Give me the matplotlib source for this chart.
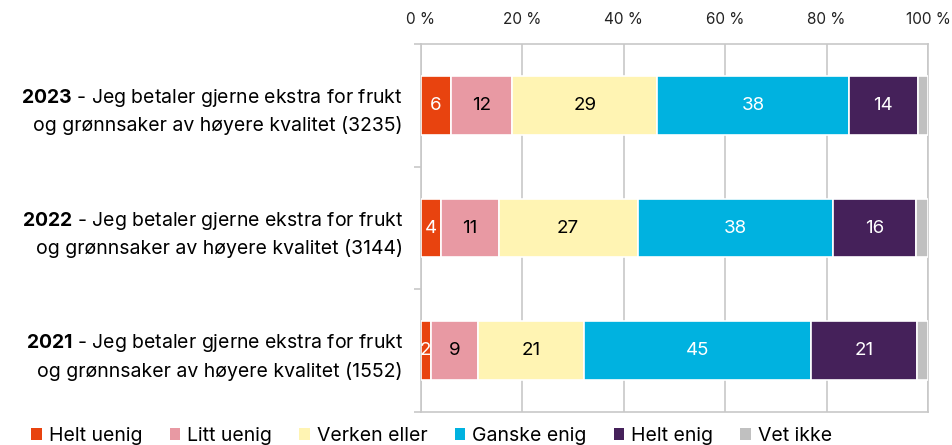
import numpy as np
import matplotlib
matplotlib.use('Agg')
import matplotlib.pyplot as plt
from matplotlib.patches import Patch

plt.rcParams['font.family'] = ['Inter', 'DejaVu Sans']
plt.rcParams['mathtext.fontset'] = 'custom'
plt.rcParams['mathtext.rm'] = 'Inter'
plt.rcParams['mathtext.bf'] = 'Inter:bold'

# data (percent)
years = ['2023', '2022', '2021']
counts = [3235, 3144, 1552]
categories = ['Helt uenig', 'Litt uenig', 'Verken eller', 'Ganske enig', 'Helt enig', 'Vet ikke']
helt_uenig = [5.9, 3.9, 1.9]
litt_uenig = [12.1, 11.4, 9.3]
verken = [28.6, 27.45, 21.0]
ganske_enig = [37.8, 38.45, 44.7]
helt_enig = [13.6, 16.4, 21.0]
vet_ikke = [2.0, 2.4, 2.1]
series = [helt_uenig, litt_uenig, verken, ganske_enig, helt_enig, vet_ikke]
colors = ['#E8430F', '#E899A3', '#FFF4B3', '#00B2E0', '#45215A', '#C0C0C0']
text_colors = ['white', 'black', 'black', 'white', 'white', None]

fig = plt.figure(figsize=(9.53, 4.45), dpi=100)
ax = fig.add_axes([421/953, 1-412/445, 507/953, 368/445])

y = np.arange(len(years))
left = np.zeros(len(years))
for vals, col, tc in zip(series, colors, text_colors):
    vals = np.array(vals)
    ax.barh(y, vals, left=left, height=0.48, color=col, edgecolor='white', linewidth=1.2, zorder=3)
    if tc:
        for yi, (l, v) in enumerate(zip(left, vals)):
            ax.text(l + v/2, yi, f'{int(v + 0.5)}', ha='center', va='center',
                    color=tc, fontsize=13.5, zorder=4)
    left += vals

ax.set_xlim(0, 100)
ax.set_ylim(len(years) - 0.5, -0.5)
ax.xaxis.tick_top()
ax.set_xticks(np.arange(0, 101, 20))
ax.set_xticklabels([f'{v} %' for v in range(0, 101, 20)])
ax.tick_params(axis='x', length=0, pad=12, labelsize=11, labelcolor='#222222')
ax.grid(axis='x', color='#C8C8C8', linewidth=1.2, zorder=0)

# boundaries as major ticks, labels on minor ticks at centers
ax.set_yticks(np.arange(-0.5, len(years), 1))
ax.set_yticklabels([])
ax.tick_params(axis='y', which='major', length=5, color='#C8C8C8', width=1.2)
ax.set_yticks(y, minor=True)
labels = [f'$\\mathbf{{{yr}}}$ - Jeg betaler gjerne ekstra for frukt\nog grønnsaker av høyere kvalitet ({n})'
          for yr, n in zip(years, counts)]
ax.set_yticklabels(labels, minor=True, fontsize=14, linespacing=1.5)
ax.tick_params(axis='y', which='minor', length=0, pad=13)

for s in ax.spines.values():
    s.set_color('#C8C8C8')
    s.set_linewidth(1.2)

handles = [Patch(facecolor=c, edgecolor='none') for c in colors]
fig.legend(handles, categories, loc='center', bbox_to_anchor=(0.453, 0.02), ncol=6,
           frameon=False, fontsize=14, handlelength=0.55, handleheight=0.55,
           handletextpad=0.35, columnspacing=1.4)

plt.savefig('out.png', dpi=100)
